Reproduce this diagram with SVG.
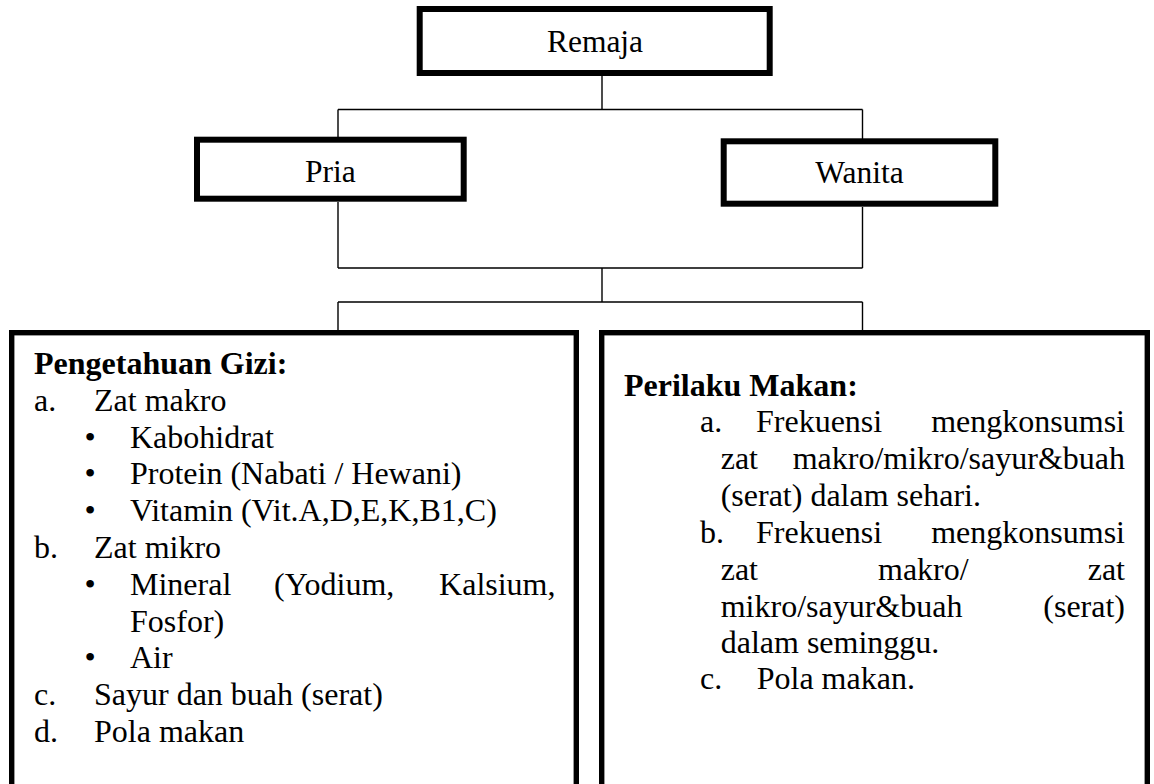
<svg xmlns="http://www.w3.org/2000/svg" width="1154" height="784" viewBox="0 0 1154 784">
<style>
.box{fill:#fff;stroke:#000;stroke-width:6}
.big{fill:#fff;stroke:#000;stroke-width:5.4}
.ln{fill:none;stroke:#000;stroke-width:1.4}
text{font-family:"Liberation Serif","Times New Roman",serif;font-size:32px;fill:#000}
.t{font-size:31.5px}
.b{font-weight:bold}
.m{text-anchor:middle}
.e{text-anchor:end}
</style>
<rect width="1154" height="784" fill="#fff"/>
<g id="connectors">
<path class="ln" d="M602 76V109.5M338 109.5H862.5M338 109.5V137M862.5 109.5V139M338 202V268M862.5 207V268M338 268H862.5M602 268V302M338 302H862.5M338 302V331M862.5 302V331"/>
</g>
<g id="remaja">
<rect class="box" x="419.7" y="9" width="350" height="64"/>
<text class="t m" x="595" y="52">Remaja</text>
</g>
<g id="pria">
<rect class="box" x="197" y="139.7" width="266.7" height="59"/>
<text class="t m" x="330.3" y="181.7">Pria</text>
</g>
<g id="wanita">
<rect class="box" x="723.7" y="141.3" width="271.6" height="62.4"/>
<text class="t m" x="859.5" y="182.7">Wanita</text>
</g>
<g id="pengetahuan">
<rect class="big" x="11.7" y="332.7" width="564.6" height="480"/>
<text class="b" x="34" y="374">Pengetahuan Gizi:</text>
<text x="34" y="410.8">a.</text><text x="94" y="410.8">Zat makro</text>
<text class="m" x="90" y="447.6">•</text><text x="130" y="447.6">Kabohidrat</text>
<text class="m" x="90" y="484.4">•</text><text x="130" y="484.4">Protein (Nabati / Hewani)</text>
<text class="m" x="90" y="521.2">•</text><text x="130" y="521.2">Vitamin (Vit.A,D,E,K,B1,C)</text>
<text x="34" y="558">b.</text><text x="94" y="558">Zat mikro</text>
<text class="m" x="90" y="594.8">•</text><text x="130" y="594.8">Mineral</text><text x="274" y="594.8">(Yodium,</text><text class="e" x="555.5" y="594.8">Kalsium,</text>
<text x="130" y="631.6">Fosfor)</text>
<text class="m" x="90" y="668.4">•</text><text x="130" y="668.4">Air</text>
<text x="34" y="705.2">c.</text><text x="94" y="705.2">Sayur dan buah (serat)</text>
<text x="34" y="742">d.</text><text x="94" y="742">Pola makan</text>
</g>
<g id="perilaku">
<rect class="big" x="601.7" y="332.7" width="545.6" height="480"/>
<text class="b" x="624" y="395.5">Perilaku Makan:</text>
<text x="700" y="432.3">a.</text><text x="756" y="432.3">Frekuensi</text><text class="e" x="1125" y="432.3">mengkonsumsi</text>
<text x="720.7" y="469.3">zat</text><text class="e" x="1125" y="469.3">makro/mikro/sayur&amp;buah</text>
<text x="720.7" y="506">(serat) dalam sehari.</text>
<text x="700" y="542.7">b.</text><text x="756" y="542.7">Frekuensi</text><text class="e" x="1125" y="542.7">mengkonsumsi</text>
<text x="720.7" y="579.7">zat</text><text x="878" y="579.7">makro/</text><text class="e" x="1125" y="579.7">zat</text>
<text x="720.7" y="616.5">mikro/sayur&amp;buah</text><text class="e" x="1125" y="616.5">(serat)</text>
<text x="720.7" y="652.5">dalam seminggu.</text>
<text x="700" y="689">c.</text><text x="756.7" y="689">Pola makan.</text>
</g>
</svg>
